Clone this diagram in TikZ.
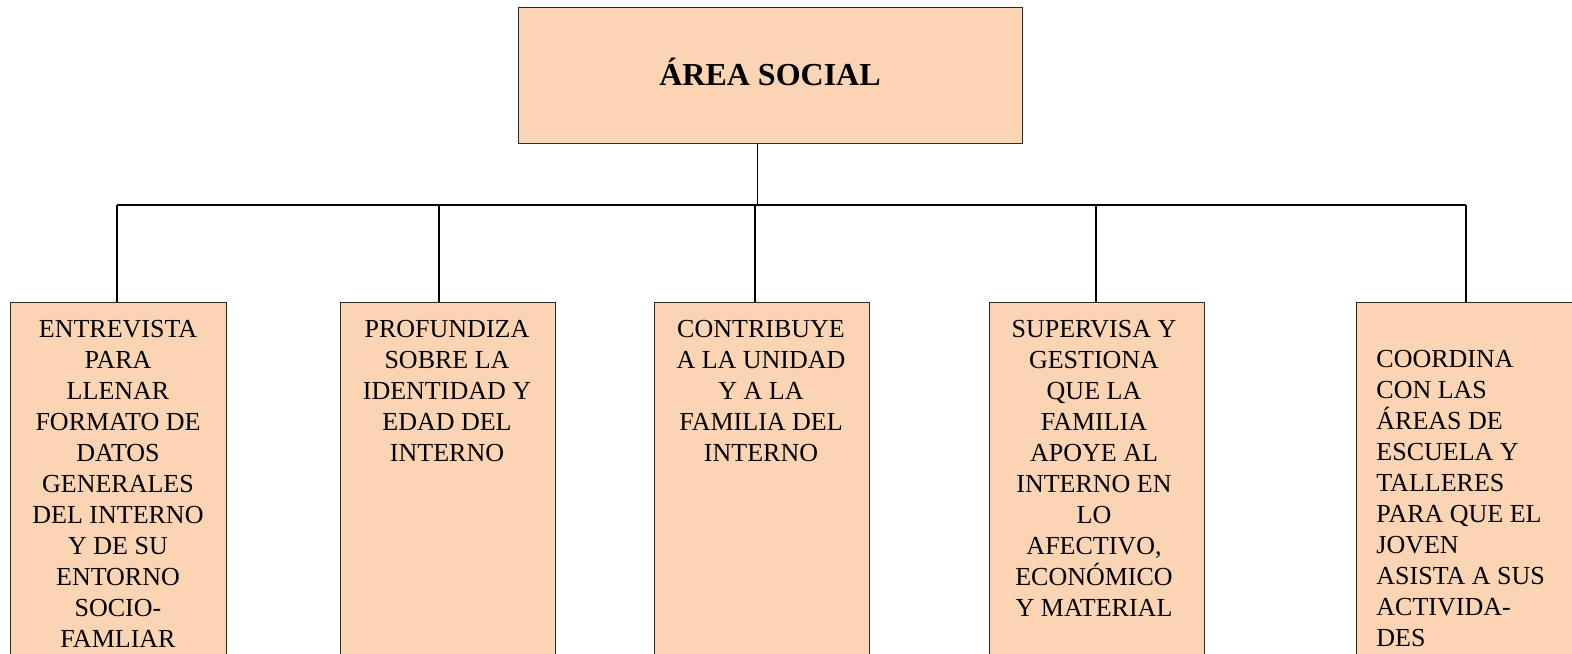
\documentclass[tikz,border=0pt]{standalone}
\usepackage{fontspec}
\setmainfont{Liberation Serif}
\definecolor{peach}{HTML}{FBD4B4}
\definecolor{edge}{HTML}{2A2A2A}
\begin{document}
\begin{tikzpicture}[x=0.5pt,y=-0.5pt,
  topbox/.style={draw=edge,line width=0.5pt,fill=peach,minimum width=252pt,minimum height=68pt,inner sep=0pt,text depth=3pt,font=\fontsize{16pt}{19pt}\selectfont\bfseries},
  childbox/.style={draw=edge,line width=0.5pt,fill=peach,minimum height=200pt,inner sep=0pt,anchor=north west},
  txt/.style={inner sep=0pt,font=\fontsize{13pt}{15.5pt}\selectfont},
  conn/.style={draw=black,line width=0.75pt}]
\useasboundingbox (0,0) rectangle (1572,653);
\node[topbox] (top) at (770,75) {ÁREA SOCIAL};
\node[childbox,minimum width=108pt] (b1) at (10,302) {};
\node[childbox,minimum width=107.5pt] (b2) at (340,302) {};
\node[childbox,minimum width=107.5pt] (b3) at (654,302) {};
\node[childbox,minimum width=107.5pt] (b4) at (989,302) {};
\node[childbox,minimum width=108pt] (b5) at (1356,302) {};
\node[txt,anchor=north,align=center] (t1) at (118,320) {ENTREVISTA\\PARA\\LLENAR\\FORMATO DE\\DATOS\\GENERALES\\DEL INTERNO\\Y DE SU\\ENTORNO\\SOCIO-\\FAMLIAR};
\node[txt,anchor=north,align=center] (t2) at (447,320) {PROFUNDIZA\\SOBRE LA\\IDENTIDAD Y\\EDAD DEL\\INTERNO};
\node[txt,anchor=north,align=center] (t3) at (761,320) {CONTRIBUYE\\A LA UNIDAD\\Y A LA\\FAMILIA DEL\\INTERNO};
\node[txt,anchor=north,align=center] (t4) at (1094,320) {SUPERVISA Y\\GESTIONA\\QUE LA\\FAMILIA\\APOYE AL\\INTERNO EN\\LO\\AFECTIVO,\\ECONÓMICO\\Y MATERIAL};
\node[txt,anchor=north west,align=left] (t5) at (1376,350) {COORDINA\\CON LAS\\ÁREAS DE\\ESCUELA Y\\TALLERES\\PARA QUE EL\\JOVEN\\ASISTA A SUS\\ACTIVIDA-\\DES};
\coordinate (j) at (757,205);
\coordinate (d1) at (117,205);
\coordinate (d2) at (439,205);
\coordinate (d3) at (755,205);
\coordinate (d4) at (1096,205);
\coordinate (d5) at (1466,205);
\draw[conn,line width=0.5pt] (top.south -| j) -- (j);
\draw[conn] (d1) -- (d5);
\foreach \i in {1,...,5}{\draw[conn] (d\i) -- (d\i |- b\i.north);}
\end{tikzpicture}
\end{document}
